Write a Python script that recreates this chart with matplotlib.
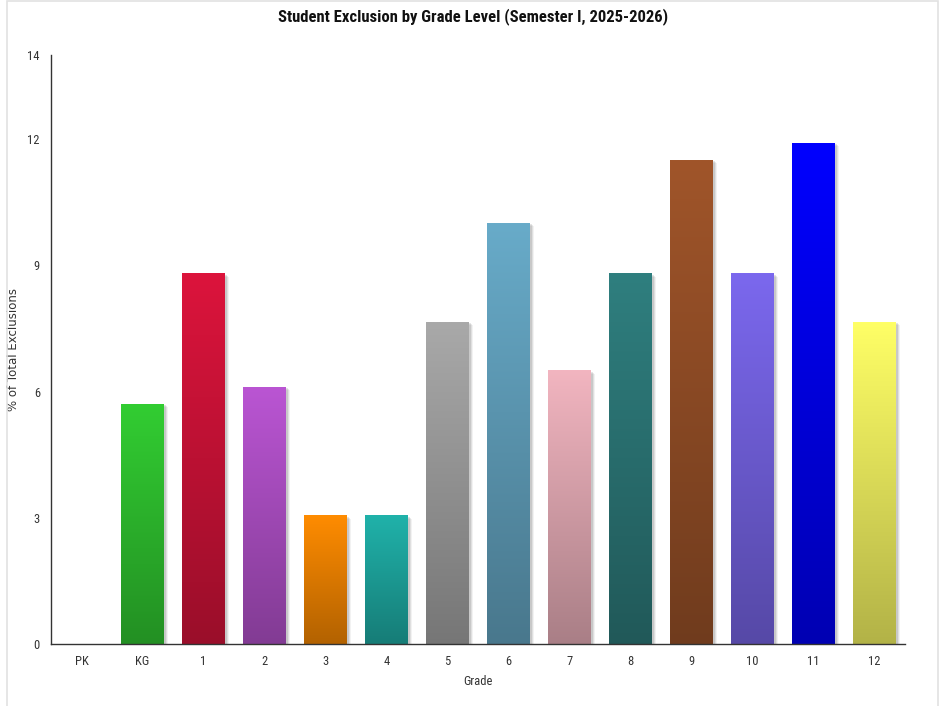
import os
import numpy as np
import matplotlib
matplotlib.use("Agg")
import matplotlib.pyplot as plt
import matplotlib.colors as mcolors
import matplotlib.transforms as mtransforms
from matplotlib import font_manager as fm
from matplotlib.patches import Rectangle

grades = ["PK", "KG", "1", "2", "3", "4", "5", "6", "7", "8", "9", "10", "11", "12"]
pct = [0.0, 5.7, 8.8, 6.1, 3.05, 3.05, 7.65, 10.0, 6.5, 8.8, 11.5, 8.8, 11.9, 7.65]
bar_colors = ["#cccccc", "#32cd32", "#dc143c", "#ba55d3", "#ff8c00", "#20b2aa", "#a9a9a9",
              "#68abc9", "#f2b5c0", "#2f7f7f", "#a0552a", "#7b68ee", "#0000ff", "#ffff66"]
y_ticks = [0, 3, 6, 9, 12, 14]


def narrow_font(bold=False):
    """look for a condensed face among installed fonts, else plain Liberation Sans"""
    wanted = ["liberationsansnarrow-bold.ttf", "notosans-condensedbold.ttf",
              "opensans-condensedbold.ttf", "robotocondensed-bold.ttf"] if bold else \
             ["liberationsansnarrow-regular.ttf", "notosans-condensed.ttf",
              "opensans-condensed.ttf", "notosans-condensedregular.ttf", "robotocondensed-regular.ttf"]
    files = {os.path.basename(f.fname).lower(): f.fname for f in fm.fontManager.ttflist}
    for w in wanted:
        if w in files:
            return fm.FontProperties(fname=files[w]), True
    return fm.FontProperties(family="Liberation Sans", weight="bold" if bold else "normal"), False


fp_reg, cond = narrow_font(False)
fp_bold, cond_b = narrow_font(True)

fig = plt.figure(figsize=(9.47, 7.06), dpi=100)
ax = fig.add_axes([51 / 947, 62 / 706, 854 / 947, 589 / 706])

# thin frame round the whole chart
fig.patches.append(Rectangle((7 / 947, -0.01), 931 / 947, 1.008, transform=fig.transFigure,
                             fill=False, edgecolor="#e2e2e2", linewidth=1.2))

width = 0.69
x = np.arange(len(grades))
for i, (v, c) in enumerate(zip(pct, bar_colors)):
    if v <= 0:
        continue
    x0 = x[i] - width / 2
    # soft drop shadow, stacked translucent rects
    for dx, dy, a in [(4, -3, 0.05), (3, -2, 0.08), (2, -1, 0.10)]:
        tr = mtransforms.offset_copy(ax.transData, fig=fig, x=dx, y=dy, units="dots")
        ax.add_patch(Rectangle((x0, 0), width, v, transform=tr, facecolor="black",
                               alpha=a, edgecolor="none", zorder=1))
    # vertical gradient: full colour at top, darker at the base
    top = np.array(mcolors.to_rgb(c))
    bot = top * 0.70
    t = np.linspace(0, 1, 256)[:, None]
    grad = top[None, :] * (1 - t) + bot[None, :] * t
    ax.imshow(grad[:, None, :], extent=(x0, x0 + width, 0, v), aspect="auto",
              origin="upper", zorder=2, interpolation="bilinear")

ax.set_xlim(-0.5, len(grades) - 0.5)
ax.set_ylim(0, 14)
tick_size = 9 if cond else 8.5
ax.set_xticks(x)
ax.set_xticklabels(grades, color="#333333")
ax.set_yticks(y_ticks)
ax.set_yticklabels([str(t) for t in y_ticks], color="#333333")
for lab in ax.get_xticklabels() + ax.get_yticklabels():
    lab.set_fontproperties(fp_reg)
    lab.set_fontsize(tick_size)
ax.tick_params(length=0, pad=8)

for s in ["top", "right"]:
    ax.spines[s].set_visible(False)
for s in ["left", "bottom"]:
    ax.spines[s].set_color("#333333")
    ax.spines[s].set_linewidth(1)

ax.set_xlabel("Grade", fontproperties=fp_reg, fontsize=tick_size, color="#333333", labelpad=5)
ax.set_ylabel("% of Total Exclusions", family="DejaVu Sans", fontsize=8.5, color="#333333")
ax.yaxis.set_label_coords((20 - 51) / 854, 0.5)

fig.text(0.5, 1 - 17 / 706, "Student Exclusion by Grade Level (Semester I, 2025-2026)",
         ha="center", va="center", fontproperties=fp_bold, fontsize=12 if cond_b else 11,
         color="#111111")

fig.savefig("out.png", dpi=100)
